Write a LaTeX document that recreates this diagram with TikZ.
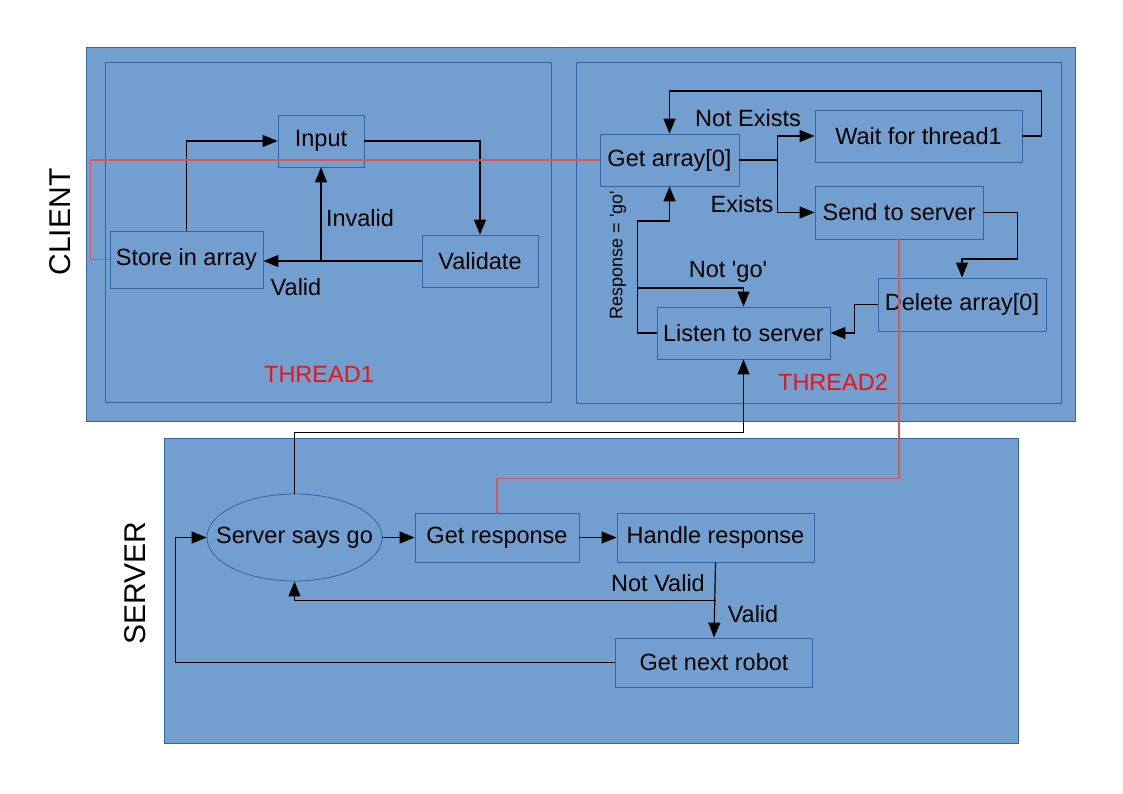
\documentclass[tikz,border=0pt]{standalone}
\usepackage{fontspec}
\setmainfont{Liberation Sans}
\usetikzlibrary{arrows.meta,shapes.geometric,calc}
\definecolor{bluefill}{HTML}{729FCF}
\definecolor{blueedge}{HTML}{3465A4}
\definecolor{linkred}{HTML}{D45A5A}
\definecolor{labred}{HTML}{EE1111}
\begin{document}
\begin{tikzpicture}[x=1pt,y=-1pt,
 every node/.style={font=\fontsize{23.5}{27}\selectfont},
 region/.style={draw=blueedge, fill=bluefill, line width=0.8pt},
 frame/.style={draw=blueedge, line width=0.8pt},
 stepbox/.style={draw=blueedge, line width=0.8pt, rectangle, inner sep=0pt},
 flow/.style={draw=black, line width=1.2pt, -{Triangle[length=15pt,width=12pt]}},
 plain/.style={draw=black, line width=1.2pt},
 redlink/.style={draw=linkred, line width=1.1pt},
 lab/.style={inner sep=0pt, text=black},
 threadlab/.style={inner sep=0pt, text=labred}]
\useasboundingbox (0,0) rectangle (1123,794);
\fill[white] (0,0) rectangle (1123,794);
% regions
\draw[region] (86,47) rectangle (1075,421);
\draw[frame] (105,62) rectangle (551,402);
\draw[frame] (576,62) rectangle (1061,403);
\draw[region] (164,438) rectangle (1018,743);
\node[lab, rotate=90, font=\fontsize{30}{34}\selectfont] (client) at (60,222) {CLIENT};
\node[lab, rotate=90, font=\fontsize{30}{34}\selectfont] (server) at (135,583) {SERVER};
\node[threadlab] (t1) at (319,374) {THREAD1};
\node[threadlab] (t2) at (833,382) {THREAD2};
% thread1 nodes
\node[stepbox, minimum width=86, minimum height=52] (input) at (321,141) {Input};
\node[stepbox, minimum width=153, minimum height=57] (store) at (186.5,259.5) {Store in array};
\node[stepbox, minimum width=116, minimum height=52] (validate) at (480,261) {Validate};
% thread2 nodes
\node[stepbox, minimum width=139, minimum height=52] (getarr) at (669.5,160) {Get array[0]};
\node[stepbox, minimum width=207, minimum height=52] (wait) at (918.5,136) {Wait for thread1};
\node[stepbox, minimum width=168, minimum height=53] (send) at (899,212.5) {Send to server};
\node[stepbox, minimum width=168, minimum height=53] (delete) at (962,304.5) {Delete array[0]};
\node[stepbox, minimum width=173, minimum height=52] (listen) at (743.5,333) {Listen to server};
% server nodes
\node[draw=blueedge, line width=0.8pt, ellipse, inner sep=0pt, minimum width=175, minimum height=87] (ssg) at (294.5,537.5) {};
\node[lab] (ssgtext) at (ssg.center) {Server says go};
\node[stepbox, minimum width=164, minimum height=49] (getresp) at (497,537.5) {Get response};
\node[stepbox, minimum width=197, minimum height=49] (handle) at (715.5,537.5) {Handle response};
\node[stepbox, minimum width=197, minimum height=49] (next) at (714,662.5) {Get next robot};
% thread1 connectors
\draw[flow] (input.east) -| (validate.north);
\draw[flow] (validate.west) -- (validate.west -| store.east);
\draw[flow] (validate.west -| input.south) -- (input.south);
\draw[flow] (store.north) |- (input.west);
\node[lab] (linvalid) at (360,218) {Invalid};
\node[lab] (lvalid1) at (296,287) {Valid};
% thread2 connectors
\coordinate (split) at ($(getarr.east)+(38,0)$);
\draw[plain] (getarr.east) -- (split);
\draw[flow] (split) |- (wait.west);
\draw[flow] (split) |- (send.west);
\node[lab] (lnotex) at (748,118) {Not Exists};
\node[lab] (lex) at (742,204) {Exists};
\draw[flow] (wait.east) -- ++(19,0) -- ++(0,-45) -| (getarr.north);
\draw[flow] (send.east) -- ++(34,0) -- ++(0,46.5) -| (delete.north);
\draw[flow] (delete.west) -- ++(-23,0) |- (listen.east);
\draw[flow] (listen.west) -- ++(-19,0) -- ++(0,-112) -| (getarr.south);
\coordinate (notgo) at ($(listen.west)+(-19,-45)$);
\draw[flow] (notgo) -| (listen.north);
\node[lab] (lnotgo) at (728,272) {Not \textquotesingle go\textquotesingle};
\node[lab, rotate=90, font=\fontsize{18}{20}\selectfont] (lresp) at (618,255) {Response = \textquotesingle go\textquotesingle};
% cross connectors
\draw[flow] (ssg.north) -- ++(0,-61) -| (listen.south);
\draw[redlink] (store.west) -- ++(-19,0) |- (getarr.west);
\draw[redlink] (send.south) -- ++(0,239.5) -| (getresp.north);
% server connectors
\draw[flow] (ssg.east) -- (getresp.west);
\draw[flow] (getresp.east) -- (handle.west);
\draw[flow] (handle.south) -- (next.north);
\coordinate (nv) at ($(handle.south)+(0,38)$);
\draw[flow] (nv) -| (ssg.south);
\draw[flow] (next.west) -- ++(-440,0) |- (ssg.west);
\node[lab] (lnotvalid) at (658,583) {Not Valid};
\node[lab] (lvalid2) at (753,614) {Valid};
\end{tikzpicture}
\end{document}
